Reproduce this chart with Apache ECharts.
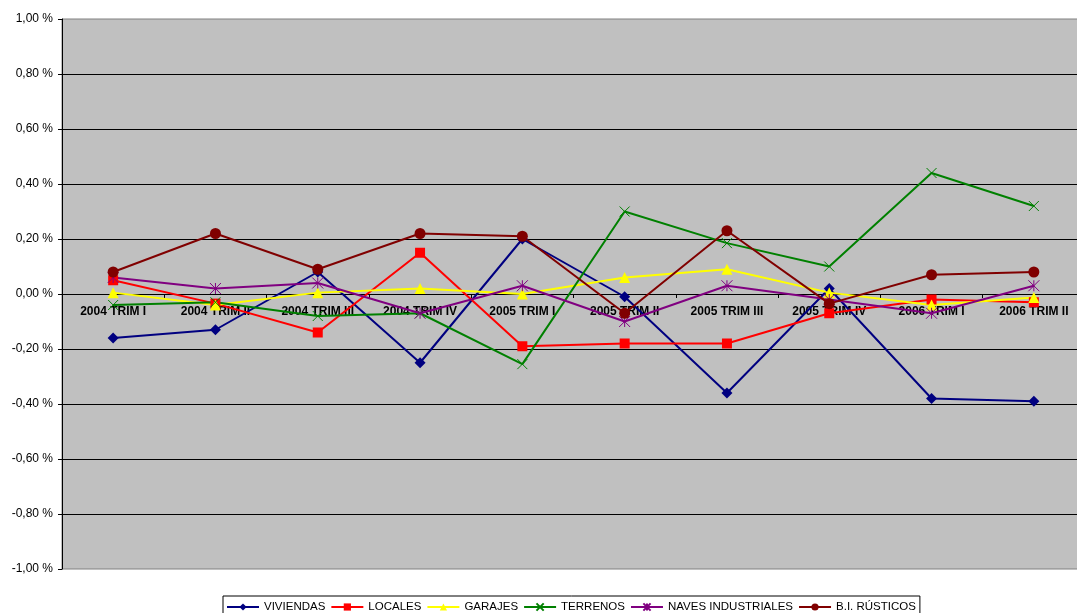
<!DOCTYPE html>
<html>
<head>
<meta charset="utf-8">
<script src="https://cdn.jsdelivr.net/npm/echarts@6/dist/echarts.min.js"></script>
<style>
  html, body { margin: 0; padding: 0; background: #fff; }
  #chart { width: 1077px; height: 613px; }
</style>
</head>
<body>
<div id="chart"></div>
<script>
  // categorías (trimestres)
  var categories = ['2004 TRIM I', '2004 TRIM II', '2004 TRIM III', '2004 TRIM IV', '2005 TRIM I',
    '2005 TRIM II', '2005 TRIM III', '2005 TRIM IV', '2006 TRIM I', '2006 TRIM II'];
  // valores en %
  var viviendas = [-0.16, -0.13, 0.08, -0.25, 0.20, -0.01, -0.36, 0.02, -0.38, -0.39];
  var locales = [0.05, -0.035, -0.14, 0.15, -0.19, -0.18, -0.18, -0.07, -0.02, -0.03];
  var garajes = [0.005, -0.04, 0.005, 0.02, 0.0, 0.06, 0.09, 0.005, -0.04, -0.013];
  var terrenos = [-0.04, -0.03, -0.08, -0.07, -0.255, 0.30, 0.185, 0.10, 0.44, 0.32];
  var naves = [0.06, 0.02, 0.04, -0.07, 0.03, -0.10, 0.03, -0.02, -0.07, 0.03];
  var rusticos = [0.08, 0.22, 0.09, 0.22, 0.21, -0.07, 0.23, -0.035, 0.07, 0.08];
  var seriesNames = ['VIVIENDAS', 'LOCALES', 'GARAJES', 'TERRENOS', 'NAVES INDUSTRIALES', 'B.I. RÚSTICOS'];

  var font = 'Liberation Sans, Arial, sans-serif';
  var crossPath = 'path://M0,0L10,10M10,0L0,10';
  var starPath = 'path://M0,0L10,10M10,0L0,10M5,0L5,10';

  function lineSerie(name, data, color, symbol, size, stroke){
    var s = {
      name: name,
      type: 'line',
      data: data,
      symbol: symbol,
      symbolSize: size,
      showAllSymbol: true,
      lineStyle: { color: color, width: 2 },
      itemStyle: { color: color, opacity: 1 },
      animation: false
    };
    if (stroke) {
      // marcadores de solo trazo (x y asterisco)
      s.itemStyle = { color: 'rgba(0,0,0,0)', borderColor: color, borderWidth: 1, opacity: 1 };
    }
    return s;
  }

  var myChart = echarts.init(document.getElementById('chart'));
  myChart.setOption({
    backgroundColor: '#fff',
    textStyle: { fontFamily: font, color: '#000' },
    grid: {
      left: 62,
      top: 19,
      height: 550,
      width: 1023,
      outerBoundsMode: 'none',
      containLabel: false,
      show: true,
      backgroundColor: '#C0C0C0',
      borderColor: '#808080',
      borderWidth: 1
    },
    legend: {
      left: 223,
      top: 596,
      data: seriesNames,
      orient: 'horizontal',
      backgroundColor: '#fff',
      borderColor: '#000',
      borderWidth: 1,
      borderRadius: 0,
      padding: [5, 4, 4, 3],
      itemGap: 5,
      itemWidth: 32,
      itemHeight: 9,
      textStyle: { fontSize: 11.5, fontFamily: font, color: '#000' }
    },
    xAxis: {
      type: 'category',
      data: categories,
      boundaryGap: true,
      z: 3,
      offset: -275,
      axisLine: { onZero: false, lineStyle: { color: '#000', width: 1 } },
      axisTick: { show: true, length: 4, lineStyle: { color: '#000' } },
      axisLabel: { fontWeight: 'bold', fontSize: 12, color: '#000', margin: 12, fontFamily: font }
    },
    yAxis: {
      type: 'value',
      min: -1,
      max: 1,
      interval: 0.2,
      axisLine: { show: true, lineStyle: { color: '#000', width: 1 } },
      axisTick: { show: true, length: 4, lineStyle: { color: '#000' } },
      splitLine: { show: true, showMinLine: false, showMaxLine: false, lineStyle: { color: '#000', width: 1 } },
      axisLabel: {
        fontSize: 12,
        color: '#000',
        margin: 9,
        fontFamily: font,
        formatter: function(v){
          var t = (Math.abs(v) < 1e-9 ? 0 : v).toFixed(2).replace('.', ',');
          return t + ' %';
        }
      }
    },
    series: [
      lineSerie('VIVIENDAS', viviendas, '#000080', 'diamond', 11),
      lineSerie('LOCALES', locales, '#FF0000', 'rect', 10),
      lineSerie('GARAJES', garajes, '#FFFF00', 'triangle', 11),
      lineSerie('TERRENOS', terrenos, '#008000', crossPath, 10, true),
      lineSerie('NAVES INDUSTRIALES', naves, '#800080', starPath, 11, true),
      lineSerie('B.I. RÚSTICOS', rusticos, '#800000', 'circle', 11)
    ]
  }, true);
</script>
</body>
</html>
